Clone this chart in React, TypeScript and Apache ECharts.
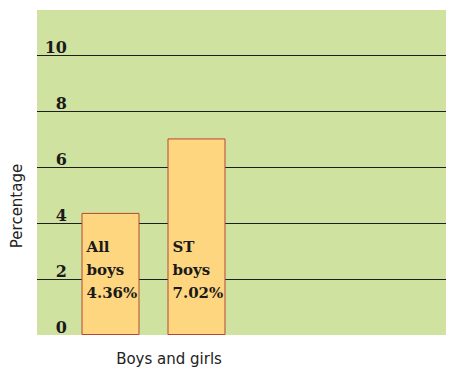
import React, { useEffect, useRef } from "react";
import * as echarts from "echarts";

const categories = ["All boys", "ST boys"];
const values = [4.36, 7.02];
const yTicks = [0, 2, 4, 6, 8, 10];
const yAxisTitle = "Percentage";
const xAxisTitle = "Boys and girls";

export default function App() {
  const ref = useRef<HTMLDivElement>(null);
  useEffect(() => {
    if (!ref.current) return;
    const chart = echarts.init(ref.current, null, { renderer: "svg" });
    const yMin = yTicks[0];
    const yMax = yTicks[yTicks.length - 1];
    const interval = yTicks[1] - yTicks[0];
    chart.setOption({
      animation: false,
      graphic: [
        {
          type: "rect",
          z: -100,
          shape: { x: 37, y: 10, width: 409, height: 325 },
          style: { fill: "#d0e29f" },
          silent: true,
        },
        {
          type: "text",
          x: 169,
          y: 359,
          style: {
            text: xAxisTitle,
            fontFamily: "DejaVu Sans",
            fontSize: 15,
            fill: "#222222",
            textAlign: "center",
            textVerticalAlign: "middle",
          },
        },
        {
          type: "text",
          x: 17,
          y: 206,
          rotation: Math.PI / 2,
          style: {
            text: yAxisTitle,
            fontFamily: "DejaVu Sans",
            fontSize: 15,
            fill: "#222222",
            textAlign: "center",
            textVerticalAlign: "middle",
          },
        },
      ],
      grid: [
        { left: 37, right: 14, top: 55, bottom: 39 },
        { left: 67.5, width: 172, top: 55, bottom: 39 },
      ],
      xAxis: [
        { type: "value", gridIndex: 0, show: false, min: 0, max: 1 },
        { type: "category", gridIndex: 1, show: false, data: categories },
      ],
      yAxis: [
        {
          type: "value",
          gridIndex: 0,
          min: yMin,
          max: yMax,
          interval,
          axisLine: { show: false },
          axisTick: { show: false },
          splitLine: { show: true, showMinLine: false, lineStyle: { color: "#1e1e1e", width: 1.2 } },
          axisLabel: {
            inside: true,
            margin: 30,
            align: "right",
            verticalAlign: "bottom",
            fontFamily: "DejaVu Serif",
            fontWeight: "bold",
            fontSize: 16,
            color: "#1a1a1a",
          },
        },
        { type: "value", gridIndex: 1, min: yMin, max: yMax, show: false },
      ],
      series: [
        {
          type: "bar",
          xAxisIndex: 1,
          yAxisIndex: 1,
          data: values,
          barWidth: 58,
          itemStyle: { color: "#fed67f", borderColor: "#b9472f", borderWidth: 1 },
          label: {
            show: true,
            position: "insideBottomLeft",
            distance: 5,
            offset: [0, -26],
            lineHeight: 23,
            fontFamily: "DejaVu Serif",
            fontWeight: "bold",
            fontSize: 15,
            color: "#1a1a1a",
            formatter: (p: any) => `${String(p.name).split(" ").join("\n")}\n${Number(p.value).toFixed(2)}%`,
          },
        },
      ],
    });
    return () => chart.dispose();
  }, []);
  return <div ref={ref} style={{ position: "absolute", left: 0, top: 0, width: 460, height: 374 }} />;
}
